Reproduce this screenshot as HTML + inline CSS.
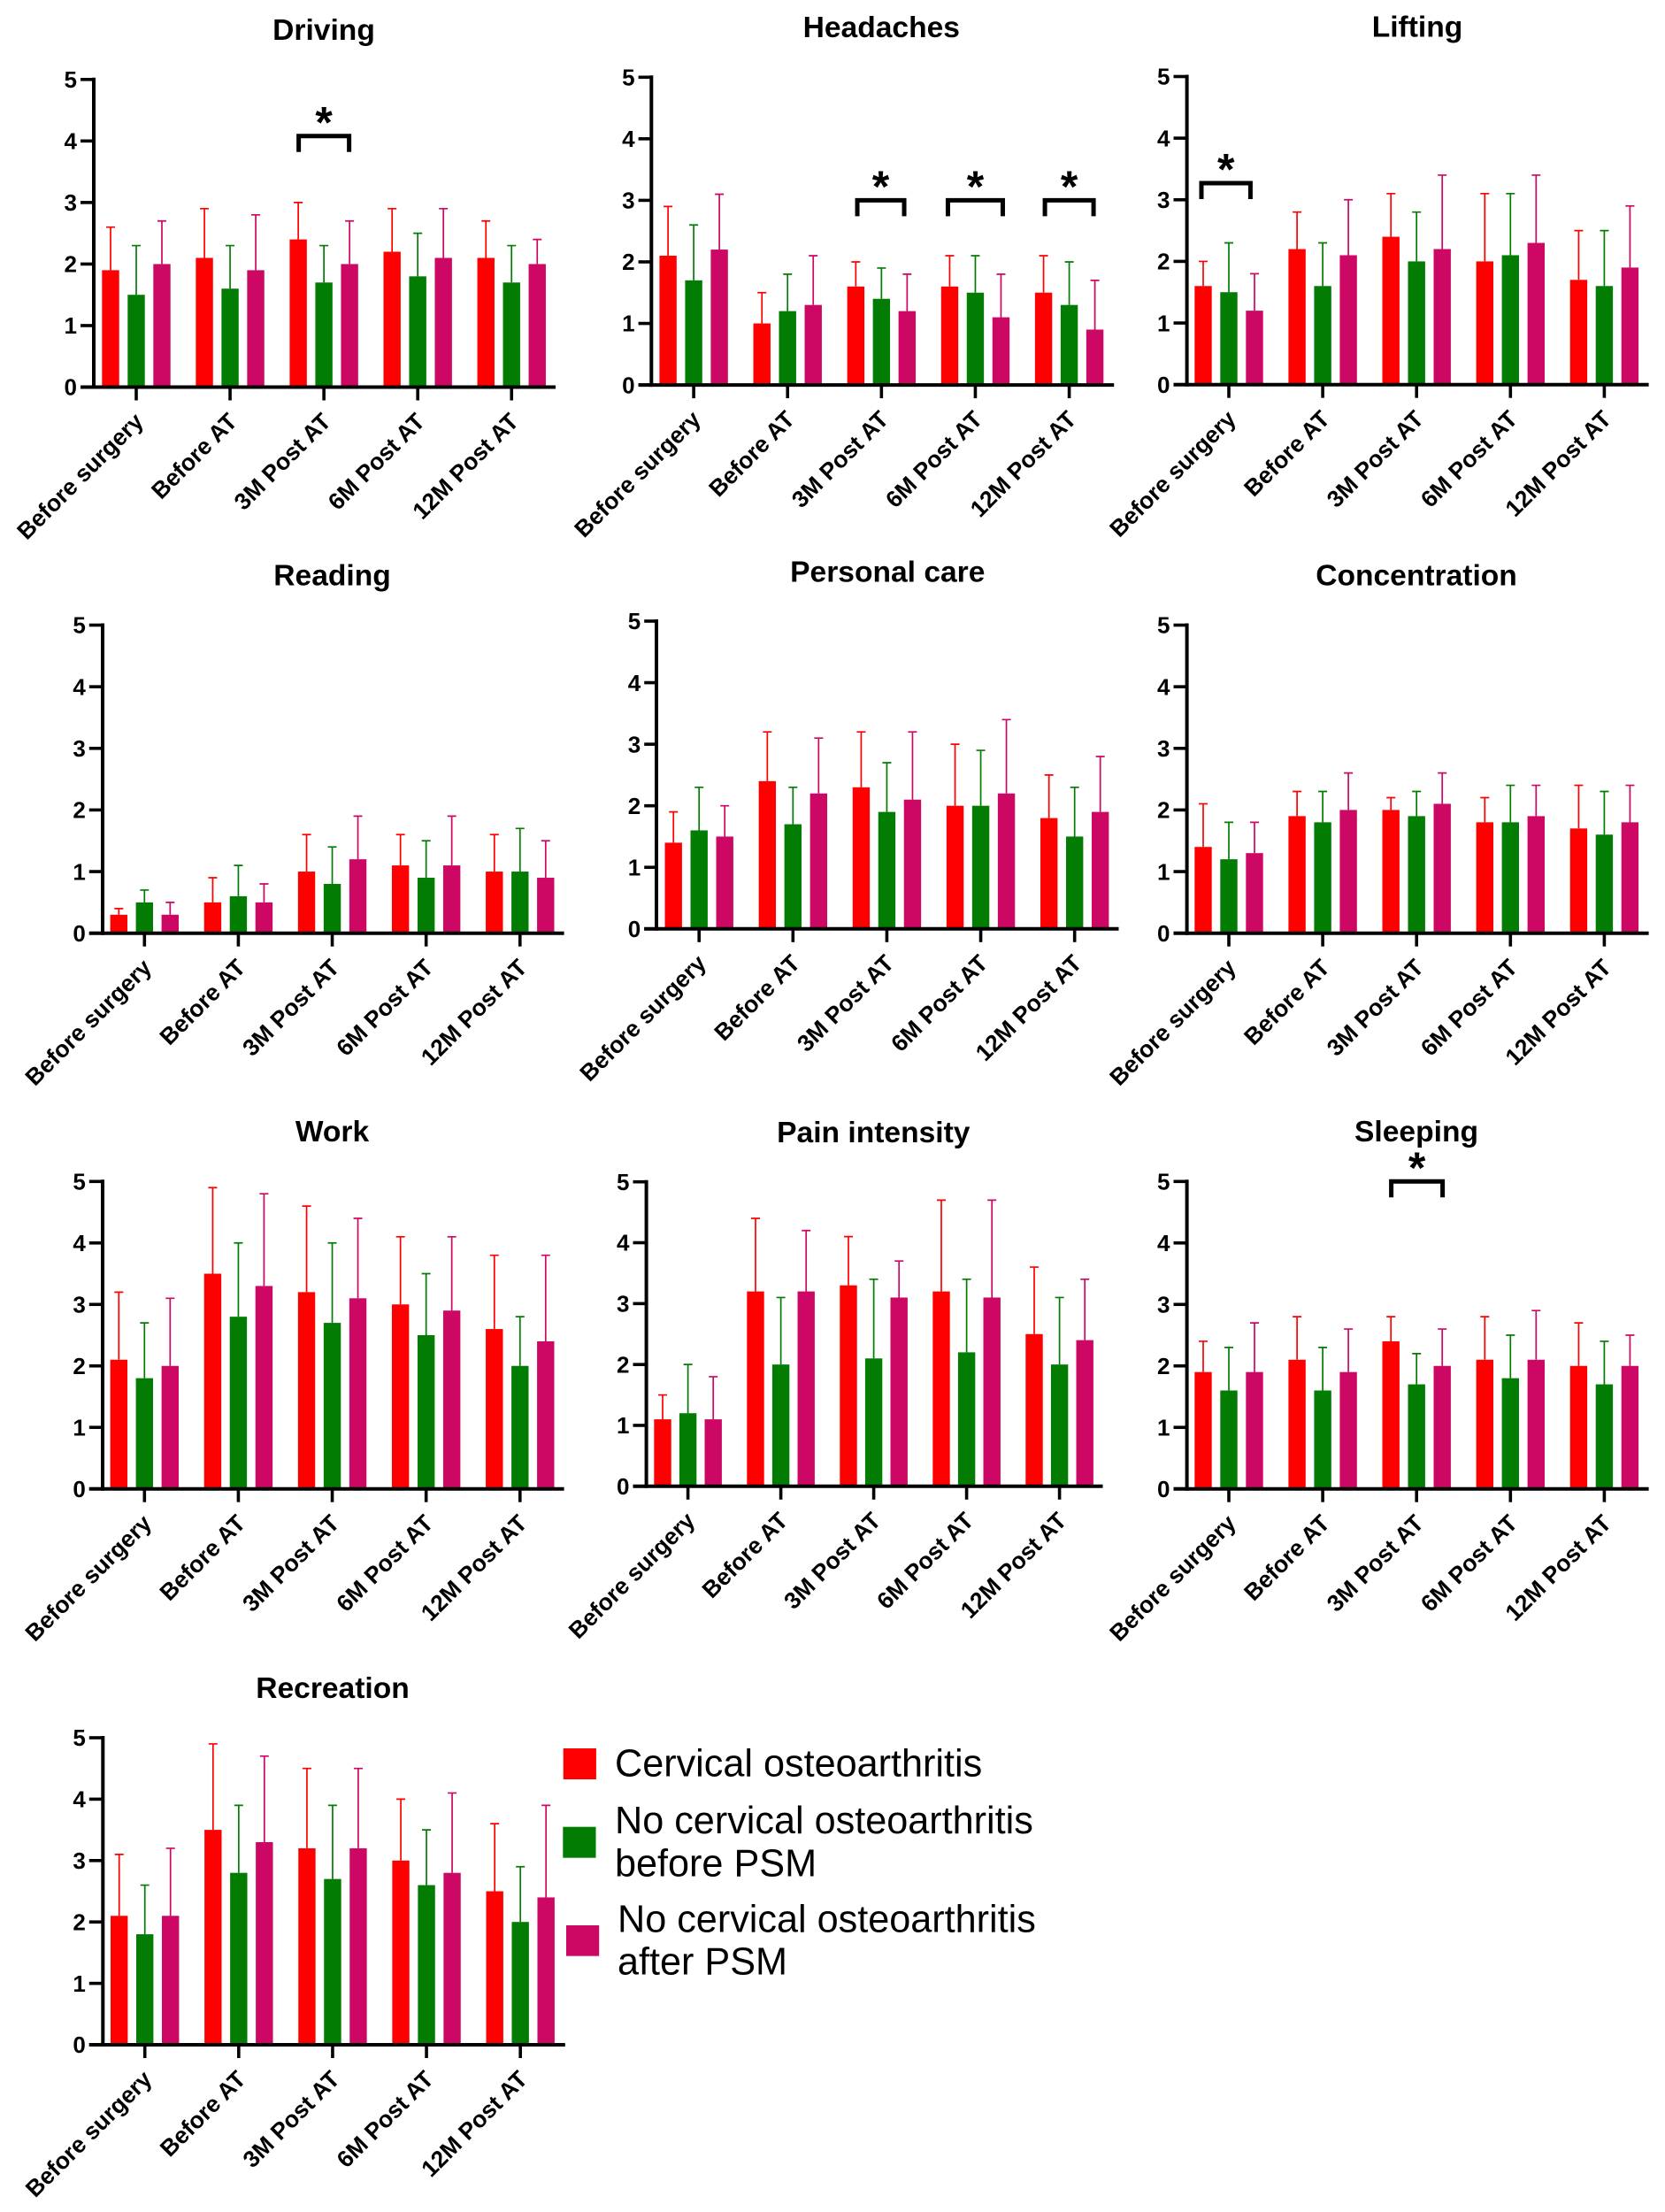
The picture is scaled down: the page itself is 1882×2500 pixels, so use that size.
<!DOCTYPE html>
<html lang="en">
<head>
<meta charset="utf-8">
<title>Outcome scores by group and time point</title>
<style>
html,body{margin:0;padding:0;background:#fff;}
svg{display:block;font-family:"Liberation Sans",Arial,sans-serif;}
</style>
</head>
<body>
<svg id="chart" xmlns="http://www.w3.org/2000/svg" width="1882" height="2500" viewBox="0 0 1882 2500">
  <rect width="1882" height="2500" fill="#ffffff"/>
  <g fill="#000000" font-size="43.2">
    <rect x="636.7" y="1976" width="37.2" height="35" fill="#ff0000"/>
    <text x="695" y="2007.7">Cervical osteoarthritis</text>
    <rect x="636.3" y="2064.7" width="37.2" height="35" fill="#027c02"/>
    <text x="695" y="2072">No cervical osteoarthritis</text>
    <text x="695" y="2120.7">before PSM</text>
    <rect x="640" y="2176" width="37.2" height="34.7" fill="#cc0864"/>
    <text x="698" y="2183.3">No cervical osteoarthritis</text>
    <text x="698" y="2231.7">after PSM</text>
  </g>
</svg>
<script>
const categories = ['Before surgery', 'Before AT', '3M Post AT', '6M Post AT', '12M Post AT'];
const yTicks = [0, 1, 2, 3, 4, 5];
const seriesNames = ['cervical-oa', 'no-oa-before-psm', 'no-oa-after-psm'];
const seriesColors = ['#ff0000', '#027c02', '#cc0864'];

const drivingMeans = [[1.9, 2.1, 2.4, 2.2, 2.1], [1.5, 1.6, 1.7, 1.8, 1.7], [2.0, 1.9, 2.0, 2.1, 2.0]];
const drivingUpper = [[2.6, 2.9, 3.0, 2.9, 2.7], [2.3, 2.3, 2.3, 2.5, 2.3], [2.7, 2.8, 2.7, 2.9, 2.4]];
const headachesMeans = [[2.1, 1.0, 1.6, 1.6, 1.5], [1.7, 1.2, 1.4, 1.5, 1.3], [2.2, 1.3, 1.2, 1.1, 0.9]];
const headachesUpper = [[2.9, 1.5, 2.0, 2.1, 2.1], [2.6, 1.8, 1.9, 2.1, 2.0], [3.1, 2.1, 1.8, 1.8, 1.7]];
const liftingMeans = [[1.6, 2.2, 2.4, 2.0, 1.7], [1.5, 1.6, 2.0, 2.1, 1.6], [1.2, 2.1, 2.2, 2.3, 1.9]];
const liftingUpper = [[2.0, 2.8, 3.1, 3.1, 2.5], [2.3, 2.3, 2.8, 3.1, 2.5], [1.8, 3.0, 3.4, 3.4, 2.9]];
const readingMeans = [[0.3, 0.5, 1.0, 1.1, 1.0], [0.5, 0.6, 0.8, 0.9, 1.0], [0.3, 0.5, 1.2, 1.1, 0.9]];
const readingUpper = [[0.4, 0.9, 1.6, 1.6, 1.6], [0.7, 1.1, 1.4, 1.5, 1.7], [0.5, 0.8, 1.9, 1.9, 1.5]];
const personalCareMeans = [[1.4, 2.4, 2.3, 2.0, 1.8], [1.6, 1.7, 1.9, 2.0, 1.5], [1.5, 2.2, 2.1, 2.2, 1.9]];
const personalCareUpper = [[1.9, 3.2, 3.2, 3.0, 2.5], [2.3, 2.3, 2.7, 2.9, 2.3], [2.0, 3.1, 3.2, 3.4, 2.8]];
const concentrationMeans = [[1.4, 1.9, 2.0, 1.8, 1.7], [1.2, 1.8, 1.9, 1.8, 1.6], [1.3, 2.0, 2.1, 1.9, 1.8]];
const concentrationUpper = [[2.1, 2.3, 2.2, 2.2, 2.4], [1.8, 2.3, 2.3, 2.4, 2.3], [1.8, 2.6, 2.6, 2.4, 2.4]];
const workMeans = [[2.1, 3.5, 3.2, 3.0, 2.6], [1.8, 2.8, 2.7, 2.5, 2.0], [2.0, 3.3, 3.1, 2.9, 2.4]];
const workUpper = [[3.2, 4.9, 4.6, 4.1, 3.8], [2.7, 4.0, 4.0, 3.5, 2.8], [3.1, 4.8, 4.4, 4.1, 3.8]];
const painMeans = [[1.1, 3.2, 3.3, 3.2, 2.5], [1.2, 2.0, 2.1, 2.2, 2.0], [1.1, 3.2, 3.1, 3.1, 2.4]];
const painUpper = [[1.5, 4.4, 4.1, 4.7, 3.6], [2.0, 3.1, 3.4, 3.4, 3.1], [1.8, 4.2, 3.7, 4.7, 3.4]];
const sleepingMeans = [[1.9, 2.1, 2.4, 2.1, 2.0], [1.6, 1.6, 1.7, 1.8, 1.7], [1.9, 1.9, 2.0, 2.1, 2.0]];
const sleepingUpper = [[2.4, 2.8, 2.8, 2.8, 2.7], [2.3, 2.3, 2.2, 2.5, 2.4], [2.7, 2.6, 2.6, 2.9, 2.5]];
const recreationMeans = [[2.1, 3.5, 3.2, 3.0, 2.5], [1.8, 2.8, 2.7, 2.6, 2.0], [2.1, 3.3, 3.2, 2.8, 2.4]];
const recreationUpper = [[3.1, 4.9, 4.5, 4.0, 3.6], [2.6, 3.9, 3.9, 3.5, 2.9], [3.2, 4.7, 4.5, 4.1, 3.9]];

const NS = 'http://www.w3.org/2000/svg';
const root = document.getElementById('chart');

function make(parent, tag, attrs) {
  const el = document.createElementNS(NS, tag);
  for (const k in attrs) el.setAttribute(k, attrs[k]);
  parent.appendChild(el);
  return el;
}
function slug(s) { return s.toLowerCase().replace(/\s+/g, '-'); }

function drawPanel(p) {
  const key = slug(p.title);
  const g = make(root, 'g', {});
  
  

  const yScale = v => p.y0 + (p.y5 - p.y0) * v / 5;
  const xScale = i => p.x0 + p.step * i;
  const barW = 19.4, barGap = p.gap;

  const title = make(g, 'text', {x: p.titleX, y: p.titleY, 'text-anchor': 'middle', 'font-size': 33.6, 'font-weight': 700, fill: '#000'});
  title.textContent = p.title;
  
  

  p.means.forEach((vals, s) => {
    vals.forEach((v, i) => {
      const cx = xScale(i) + (s - 1) * barGap;
      const top = yScale(v), base = yScale(0), up = yScale(p.upper[s][i]);
      const bar = make(g, 'rect', {x: cx - barW / 2, y: top, width: barW, height: base - top, fill: seriesColors[s]});
      
      
      const err = make(g, 'path', {d: 'M' + cx + ' ' + top + 'V' + up + 'M' + (cx - 5) + ' ' + up + 'H' + (cx + 5), fill: 'none', stroke: seriesColors[s], 'stroke-width': 1.7});
      
      
    });
  });

  const yAxis = make(g, 'line', {x1: p.axisX, x2: p.axisX, y1: yScale(5) - 2, y2: yScale(0) + 2, stroke: '#000', 'stroke-width': 4});
  
  
  const xAxis = make(g, 'line', {x1: p.tickLeft, x2: p.xEnd, y1: yScale(0), y2: yScale(0), stroke: '#000', 'stroke-width': 4});
  
  

  yTicks.forEach(t => {
    const tick = make(g, 'line', {x1: p.tickLeft, x2: p.axisX, y1: yScale(t), y2: yScale(t), stroke: '#000', 'stroke-width': 3.6});
    
    
    const lab = make(g, 'text', {x: p.tickLeft - 4, y: yScale(t) + 9.2, 'text-anchor': 'end', 'font-size': 26, 'font-weight': 700, fill: '#000'});
    lab.textContent = t;
    
    
  });

  categories.forEach((c, i) => {
    const cx = xScale(i), by = yScale(0);
    const tick = make(g, 'line', {x1: cx, x2: cx, y1: by, y2: by + 15, stroke: '#000', 'stroke-width': 3.6});
    
    
    const lx = cx + 9.5, ly = by + 40.5;
    const lab = make(g, 'text', {x: lx, y: ly, transform: 'rotate(-45 ' + lx + ' ' + ly + ')', 'text-anchor': 'end', 'font-size': 26.5, 'font-weight': 700, fill: '#000'});
    lab.textContent = c;
    
    
  });

  (p.brackets || []).forEach(b => {
    const cx = xScale(b.group) + (b.shift || 0), ty = yScale(b.level);
    const br = make(g, 'path', {d: 'M' + (cx - b.half) + ' ' + (ty + 18) + 'V' + ty + 'H' + (cx + b.half) + 'V' + (ty + 18), fill: 'none', stroke: '#000', 'stroke-width': 5});
    
    
    const star = make(g, 'text', {x: cx, y: ty + 1.5, 'text-anchor': 'middle', 'font-size': 50, 'font-weight': 700, fill: '#000'});
    star.textContent = '*';
    
    
  });
}

drawPanel({title: 'Driving', means: drivingMeans, upper: drivingUpper, titleX: 366, titleY: 44.9, axisX: 106, tickLeft: 91, xEnd: 628, x0: 154, step: 106.06, gap: 29, y0: 437.5, y5: 89.8,
  brackets: [{group: 2, level: 4.08, half: 28.5}]});
drawPanel({title: 'Headaches', means: headachesMeans, upper: headachesUpper, titleX: 996.3, titleY: 42, axisX: 736.3, tickLeft: 721.6, xEnd: 1259.2, x0: 784.1, step: 106.12, gap: 29, y0: 435.1, y5: 87.3,
  brackets: [{group: 2, level: 3.0, half: 26.5, shift: -0.8}, {group: 3, level: 3.0, half: 31}, {group: 4, level: 3.0, half: 27.5}]});
drawPanel({title: 'Lifting', means: liftingMeans, upper: liftingUpper, titleX: 1602, titleY: 41.6, axisX: 1341.6, tickLeft: 1326.5, xEnd: 1863.6, x0: 1389, step: 106.1, gap: 29, y0: 434.7, y5: 86.5,
  brackets: [{group: 0, level: 3.27, half: 27.7, shift: -3.3}]});
drawPanel({title: 'Reading', means: readingMeans, upper: readingUpper, titleX: 375.5, titleY: 661.6, axisX: 116, tickLeft: 100.8, xEnd: 637.6, x0: 163.3, step: 106.12, gap: 29, y0: 1054.7, y5: 706.5});
drawPanel({title: 'Personal care', means: personalCareMeans, upper: personalCareUpper, titleX: 1003.3, titleY: 657.6, axisX: 742, tickLeft: 728.2, xEnd: 1264.5, x0: 790.2, step: 106.12, gap: 29, y0: 1049.8, y5: 702});
drawPanel({title: 'Concentration', means: concentrationMeans, upper: concentrationUpper, titleX: 1601, titleY: 661.6, axisX: 1341.6, tickLeft: 1326.5, xEnd: 1863.6, x0: 1389, step: 106.1, gap: 29, y0: 1054.7, y5: 706.5});
drawPanel({title: 'Work', means: workMeans, upper: workUpper, titleX: 375.5, titleY: 1290, axisX: 116, tickLeft: 100.8, xEnd: 637.6, x0: 163.3, step: 106.12, gap: 29, y0: 1682.7, y5: 1335.3});
drawPanel({title: 'Pain intensity', means: painMeans, upper: painUpper, titleX: 987.3, titleY: 1290.8, axisX: 730.6, tickLeft: 715.5, xEnd: 1246.5, x0: 777.6, step: 105, gap: 28.6, y0: 1679.8, y5: 1335.7});
drawPanel({title: 'Sleeping', means: sleepingMeans, upper: sleepingUpper, titleX: 1601, titleY: 1290, axisX: 1341.6, tickLeft: 1326.5, xEnd: 1863.6, x0: 1389, step: 106.1, gap: 29, y0: 1682.7, y5: 1335.3,
  brackets: [{group: 2, level: 5.0, half: 29, shift: 0.4}]});
drawPanel({title: 'Recreation', means: recreationMeans, upper: recreationUpper, titleX: 376, titleY: 1919, axisX: 116.3, tickLeft: 100.8, xEnd: 638.8, x0: 163.7, step: 106.12, gap: 29, y0: 2311, y5: 1964});
</script>
</body>
</html>
